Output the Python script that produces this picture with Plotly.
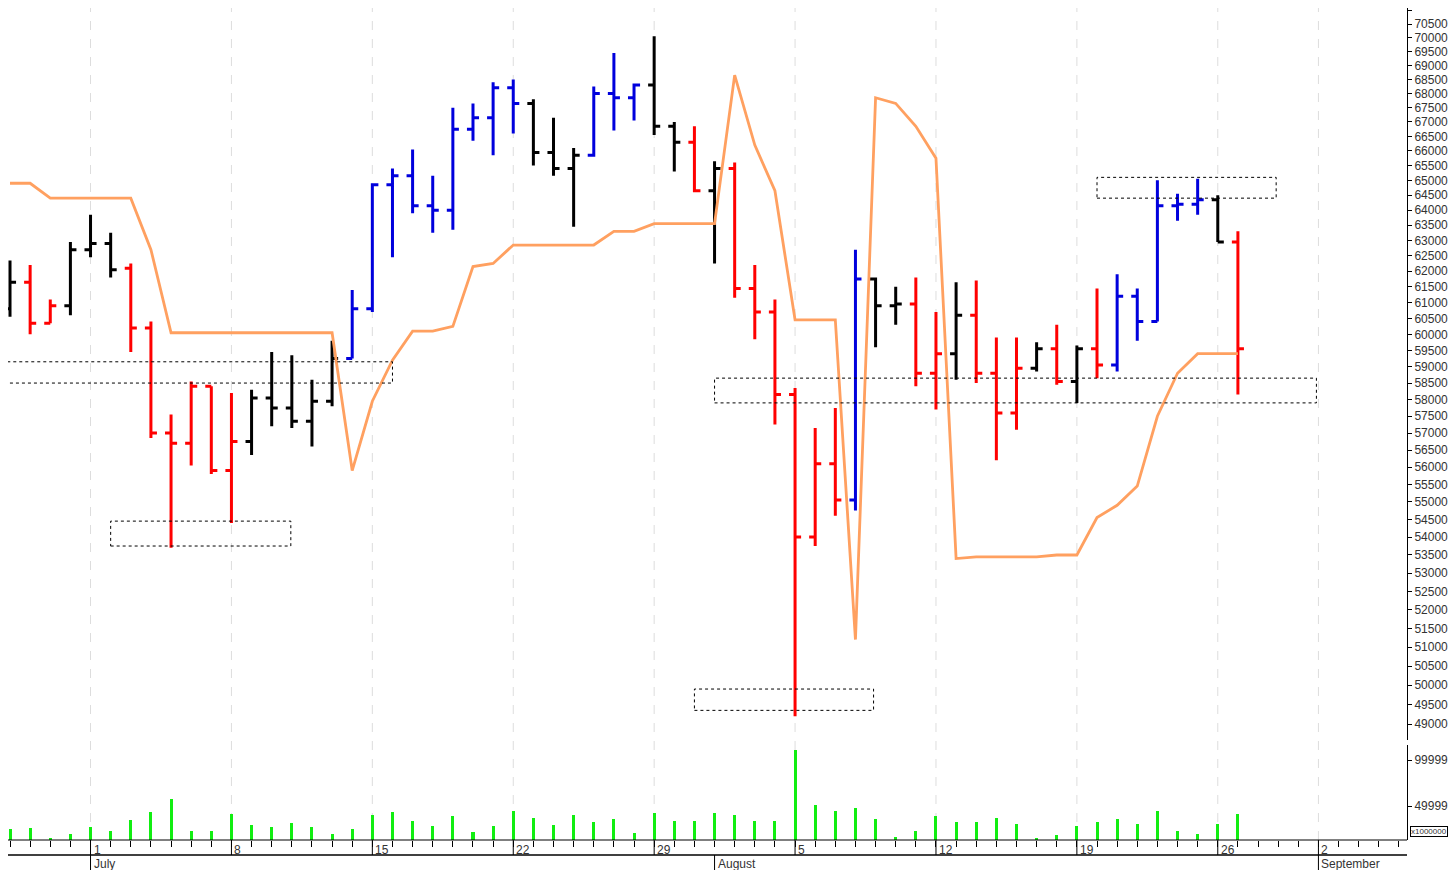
import plotly.graph_objects as go

dates = (["Jun 27","Jun 28","Jun 29","Jun 30"] + [f"Jul {d}" for d in range(1,32)] + [f"Aug {d}" for d in range(1,28)])
opens  = [60800,61650,60350,60900,62700,62900,62100,60200,57000,56700,58400,55900,56750,58050,57750,57350,57950,59250,60800,64850,65150,64150,64000,66750,67150,68200,67650,65950,65400,65850,68000,67850,68300,66850,66300,64650,65400,61450,60700,58150,54000,56100,55050,61750,60900,60950,58800,59400,60600,58800,57600,58950,59550,58550,59550,59050,61200,60400,64150,64200,64350,62950]
highs  = [62350,62200,61100,62950,63850,63250,62250,60400,57550,58550,58400,58200,58300,59450,59350,58600,59800,61400,64900,65400,66050,65150,67500,67650,68400,68500,67800,67150,66100,68250,69450,68350,70050,67000,66850,65650,65600,62200,61100,58350,57150,57750,62700,61800,61500,61800,60700,61650,61700,59900,59900,59750,60300,59650,61450,61900,61450,65000,64550,65050,64500,63300]
lows   = [60550,60000,60350,60600,62450,61800,59450,56850,53700,56050,55800,54400,56350,57200,57150,56600,57800,59250,60700,62450,63900,63250,63350,66350,65850,66600,65500,65150,63450,65800,66700,67050,66550,65300,64600,62250,61150,59850,57250,49200,53750,54600,54750,59600,60300,58400,57700,58600,58500,56200,57100,58850,58450,57900,58650,58850,59800,60400,63650,63850,62950,58150]
closes = [61650,60350,60900,62700,62900,62050,60200,57000,56700,58400,55900,56750,58050,57750,57350,57950,59250,60800,64850,65150,64150,64000,66750,67150,68200,67650,65950,65400,65850,68000,67850,68300,66850,66300,64650,65400,61450,60700,58150,54000,56100,55050,61750,60900,60950,58800,59400,60600,58800,57600,58950,59550,58550,59550,59050,61200,60400,64150,64200,64350,62950,59550]
bar_colors = (["k","r","r","k","k","k","r","r","r","r","r","r","k","k","k","k","k","b","b","b","b","b","b","b","b","b","k","k","k","b","b","b","k","k","r","k","r","r","r","r","r","r","b","k","k","r","r","k","r","r","r","k","r","k","r","b","b","b","b","b","k","r"])
trend = [64900,64900,64400,64400,64400,64400,64400,62700,60050,60050,60050,60050,60050,60050,60050,60050,60050,55900,57950,59200,60100,60100,60250,62150,62250,62850,62850,62850,62850,62850,63300,63300,63550,63550,63550,63550,68650,66200,64650,60450,60450,60450,51200,67850,67650,66850,65750,53400,53450,53450,53450,53450,53500,53500,54550,54900,55450,57500,58800,59400,59400,59400]
volume = [25000,26100,15200,19600,27200,22800,34800,43500,57600,22800,22800,41300,29300,27200,31500,27200,19600,25000,40200,43500,33700,28300,39100,21700,28300,44600,37000,29300,40200,32600,35900,20700,42400,33700,33700,42400,40200,33700,33700,110900,51100,44600,47800,35900,16300,22800,39100,32600,32600,37000,30400,15200,18500,28300,32600,35900,30400,44600,22800,19600,30400,41300]
# boxes: (x0 index, x1 index, y0 price, y1 price)
boxes = [(-0.6,19,58500,59150),(5,13.95,53750,54450),(34,42.9,49350,49900),(35,64.9,57900,58650),(54,62.9,64400,65100)]
day_ticks = [4,11,18,25,32,39,46,53,60,65]
day_labels = ["1","8","15","22","29","5","12","19","26","2"]
month_ticks = [4,35,65]
month_labels = ["July","August","September"]
price_ticks = list(range(49000,71001,500))

H = 832.0
idx = list(range(len(dates)))
cmap = {"k":"#000000","r":"#FF0000","b":"#0000DD"}
fig = go.Figure()
for key, col in cmap.items():
    sel = [i for i in idx if bar_colors[i]==key]
    fig.add_trace(go.Ohlc(x=sel, open=[opens[i] for i in sel], high=[highs[i] for i in sel],
        low=[lows[i] for i in sel], close=[closes[i] for i in sel], tickwidth=0.3,
        increasing=dict(line=dict(color=col,width=3)), decreasing=dict(line=dict(color=col,width=3)),
        xaxis="x", yaxis="y", hoverinfo="skip"))
fig.add_trace(go.Scatter(x=idx, y=trend, mode="lines", line=dict(color="#FFA060", width=2.8), yaxis="y"))
fig.add_trace(go.Bar(x=idx, y=volume, marker=dict(color="#11EE11", line=dict(width=0)), width=0.15, yaxis="y2", base=0))

shapes = []
for x0,x1,y0,y1 in boxes:
    shapes.append(dict(type="rect", xref="x", yref="y", x0=x0, x1=x1, y0=y0, y1=y1,
                       line=dict(color="black", width=1, dash="dot")))
for t in day_ticks:
    shapes.append(dict(type="line", xref="x", yref="paper", x0=t, x1=t, y0=0, y1=1,
                       line=dict(color="#DDDDDD", width=1, dash="dash"), layer="below"))
    shapes.append(dict(type="line", xref="x", yref="paper", x0=t, x1=t, y0=0, y1=-15/H,
                       line=dict(color="black", width=1)))
for t in month_ticks:
    shapes.append(dict(type="line", xref="x", yref="paper", x0=t, x1=t, y0=-15/H, y1=-30/H,
                       line=dict(color="black", width=1)))
shapes.append(dict(type="line", xref="paper", yref="paper", x0=0, x1=1, y0=0, y1=0,
                   line=dict(color="black", width=1)))
shapes.append(dict(type="line", xref="paper", yref="paper", x0=0, x1=1, y0=-15/H, y1=-15/H,
                   line=dict(color="black", width=1.5)))

ann = [dict(x=25.3, y=52700, xref="x", yref="y", text="<b>BITCOIN</b>", showarrow=False,
            font=dict(family="DejaVu Sans", size=16, color="#111111"))]
for t, l in zip(day_ticks, day_labels):
    ann.append(dict(x=t+0.05, y=-1/H, xref="x", yref="paper", text=l, showarrow=False, xanchor="left",
                    yanchor="top", font=dict(family="Liberation Sans", size=12, color="#333333")))
for t, l in zip(month_ticks, month_labels):
    ann.append(dict(x=t+0.05, y=-15/H, xref="x", yref="paper", text=l, showarrow=False, xanchor="left",
                    yanchor="top", font=dict(family="Liberation Sans", size=12, color="#333333")))
ann.append(dict(x=1.002, y=3/H, xref="paper", yref="paper", text="x1000000", showarrow=False, xanchor="left",
                yanchor="bottom", bordercolor="black", borderwidth=1, borderpad=0,
                font=dict(family="Liberation Sans", size=8, color="#333333")))

fig.update_layout(
    width=1448, height=862, margin=dict(l=0, r=49, t=0, b=30),
    paper_bgcolor="white", plot_bgcolor="white", showlegend=False,
    shapes=shapes, annotations=ann, bargap=0,
    xaxis=dict(range=[-0.1, 69.4], showgrid=False, zeroline=False, rangeslider=dict(visible=False),
               tickmode="linear", tick0=0, dtick=1, ticks="outside", ticklen=6, tickcolor="black",
               showticklabels=False, showline=False, anchor="y2"),
    yaxis=dict(type="log", domain=[100/H, 1], range=[4.6866, 4.8518], side="right", anchor="x",
               tickvals=price_ticks, ticktext=[str(v) for v in price_ticks], showgrid=False, zeroline=False,
               ticks="outside", ticklen=4, tickcolor="black", showline=True, linecolor="black",
               tickfont=dict(family="Liberation Sans", size=12, color="#333333"), autorange=False),
    yaxis2=dict(domain=[0, 95/H], range=[13043, 116300], side="right", anchor="x",
                tickvals=[49999, 99999], ticktext=["49999", "99999"], showgrid=False, zeroline=False,
                ticks="outside", ticklen=4, tickcolor="black", showline=True, linecolor="black",
                tickfont=dict(family="Liberation Sans", size=12, color="#333333")),
)
fig.write_html("out.html")
